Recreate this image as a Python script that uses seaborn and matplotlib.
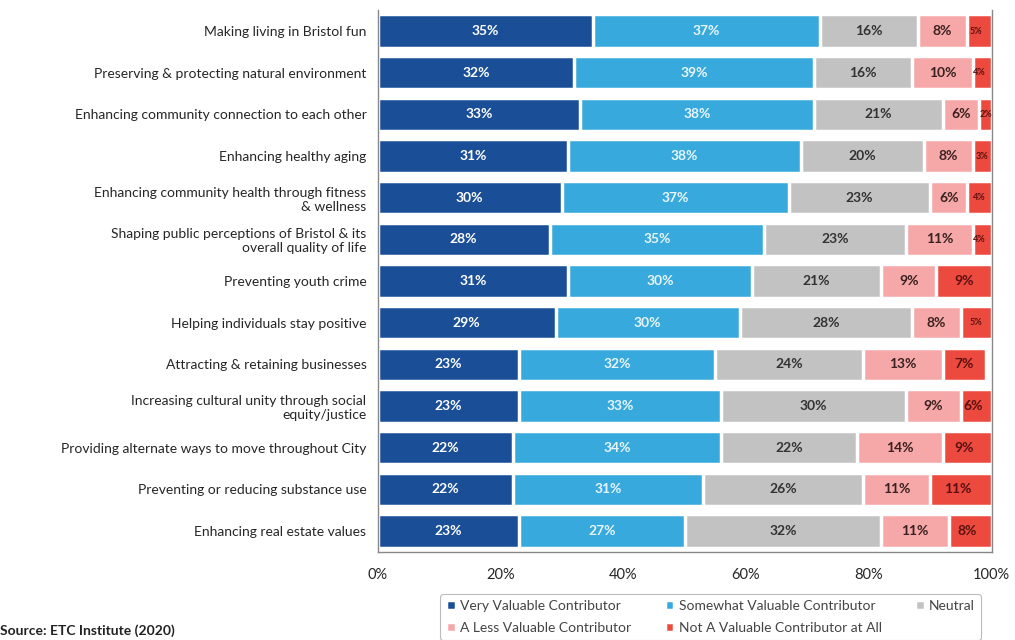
import pandas as pd
import numpy as np
import matplotlib
matplotlib.use("Agg")
import matplotlib.pyplot as plt
import seaborn as sns

# data
items = [
    "Making living in Bristol fun",
    "Preserving & protecting natural environment",
    "Enhancing community connection to each other",
    "Enhancing healthy aging",
    "Enhancing community health through fitness\n& wellness",
    "Shaping public perceptions of Bristol & its\noverall quality of life",
    "Preventing youth crime",
    "Helping individuals stay positive",
    "Attracting & retaining businesses",
    "Increasing cultural unity through social\nequity/justice",
    "Providing alternate ways to move throughout City",
    "Preventing or reducing substance use",
    "Enhancing real estate values",
]
very = [35, 32, 33, 31, 30, 28, 31, 29, 23, 23, 22, 22, 23]
somewhat = [37, 39, 38, 38, 37, 35, 30, 30, 32, 33, 34, 31, 27]
neutral = [16, 16, 21, 20, 23, 23, 21, 28, 24, 30, 22, 26, 32]
less = [8, 10, 6, 8, 6, 11, 9, 8, 13, 9, 14, 11, 11]
not_valuable = [5, 4, 2, 3, 4, 4, 9, 5, 7, 6, 9, 11, 8]

series_names = ["Very Valuable Contributor", "Somewhat Valuable Contributor", "Neutral",
                "A Less Valuable Contributor", "Not A Valuable Contributor at All"]
colors = ["#1a4f98", "#38a9dc", "#c2c2c2", "#f6a8a8", "#ec4a3e"]
text_colors = ["white", "#e8f6fc", "#333333", "#3a2020", "#5a1010"]

df = pd.DataFrame({"item": items, series_names[0]: very, series_names[1]: somewhat,
                   series_names[2]: neutral, series_names[3]: less, series_names[4]: not_valuable})
cum = df[series_names].cumsum(axis=1)

sns.set_style("white")
plt.rcParams["font.family"] = ["Lato", "DejaVu Sans"]

fig = plt.figure(figsize=(10.15, 6.4), dpi=100)
ax = fig.add_axes([0.372, 0.138, 0.605, 0.846])

# draw cumulative bars from the back so they look stacked
for name, col in reversed(list(zip(series_names, colors))):
    sns.barplot(x=cum[name].clip(upper=100), y=df["item"], color=col, orient="h",
                width=0.8, edgecolor="white", linewidth=2.5, saturation=1,
                ax=ax, label=name)

# segment labels
for i in range(len(df)):
    for name, tc in zip(series_names, text_colors):
        v = df.loc[i, name]
        mid = min(cum.loc[i, name], 100) - v / 2
        fs = 10 if v >= 6 else 6.5
        ax.text(mid, i, f"{v}%", ha="center", va="center", color=tc,
                fontsize=fs, fontweight="bold")

ax.set_xlim(0, 100)
ax.set_xticks([0, 20, 40, 60, 80, 100])
ax.set_xticklabels(["0%", "20%", "40%", "60%", "80%", "100%"], fontsize=10.5)
ax.set_xlabel("")
ax.set_ylabel("")
ax.tick_params(axis="y", labelsize=10, length=0, pad=8)
ax.tick_params(axis="x", length=0, pad=12)
for lab in ax.get_yticklabels():
    lab.set_multialignment("right")
for s in ["left", "right", "top", "bottom"]:
    ax.spines[s].set_color("#888888")
    ax.spines[s].set_linewidth(1)
ax.spines["top"].set_visible(False)

# legend ordered row by row
if ax.get_legend() is not None:
    ax.get_legend().remove()
handles, labels = ax.get_legend_handles_labels()
hmap = dict(zip(labels, handles))
order = [series_names[0], series_names[3], series_names[1], series_names[4], series_names[2]]
leg = fig.legend([hmap[n] for n in order], order, ncol=3, loc="upper center",
                 bbox_to_anchor=(0.70, 0.083), fontsize=10, frameon=True,
                 handlelength=0.7, handleheight=0.7, handletextpad=0.3,
                 columnspacing=2.4, borderpad=0.45, labelspacing=0.7)
leg.get_frame().set_edgecolor("#aaaaaa")
leg.get_frame().set_linewidth(0.8)
for t in leg.get_texts():
    t.set_color("#444444")

fig.text(0.0, 0.005, "Source: ETC Institute (2020)", fontsize=10, fontweight="bold",
         color="#222222", ha="left", va="bottom")

fig.savefig("out.png", dpi=100)
